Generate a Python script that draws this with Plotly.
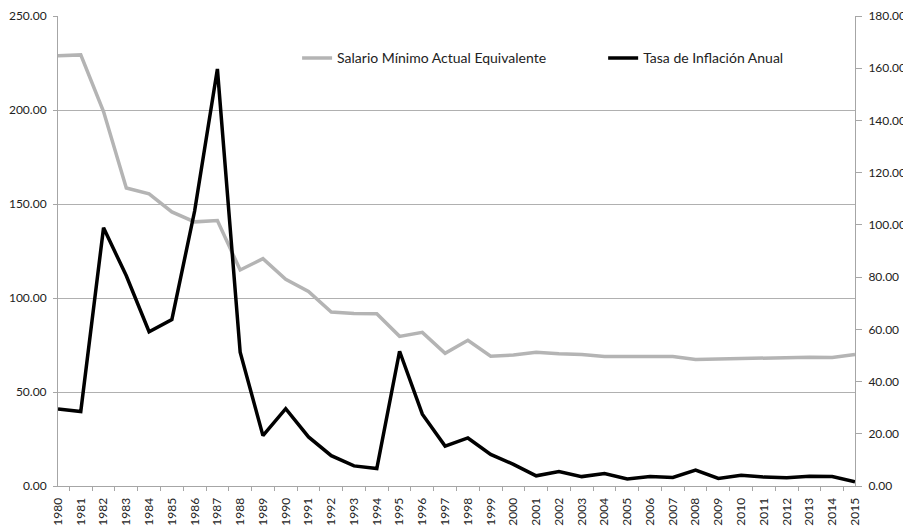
import plotly.graph_objects as go

years = [str(y) for y in range(1980, 2016)]
salario = [228.8, 229.3, 199.2, 158.5, 155.4, 145.8, 140.5, 141.2, 114.9, 120.9,
           110.0, 103.5, 92.5, 91.8, 91.6, 79.6, 81.7, 70.6, 77.5, 69.0,
           69.7, 71.1, 70.3, 69.9, 68.9, 68.9, 68.9, 68.9, 67.3, 67.6,
           68.0, 68.2, 68.4, 68.5, 68.3, 69.9]
inflacion = [29.5, 28.5, 98.9, 80.5, 59.1, 63.7, 105.3, 159.7, 51.2, 19.3,
             29.6, 18.8, 11.6, 7.7, 6.7, 51.6, 27.5, 15.3, 18.4, 12.1,
             8.3, 3.9, 5.5, 3.6, 4.8, 2.7, 3.6, 3.3, 6.1, 2.9,
             4.1, 3.4, 3.2, 3.7, 3.6, 1.6]

font_family = "Lato, Open Sans, sans-serif"

fig = go.Figure()
fig.add_trace(go.Scatter(x=years, y=salario, mode="lines",
                         name="Salario Mínimo Actual Equivalente",
                         line=dict(color="#b4b4b4", width=3.5),
                         legend="legend", showlegend=True))
fig.add_trace(go.Scatter(x=years, y=inflacion, mode="lines",
                         name="Tasa de Inflación Anual",
                         line=dict(color="#000000", width=3.5),
                         yaxis="y2", legend="legend2", showlegend=True))

axis_grey = "#a6a6a6"
# The page body keeps an 8px margin, so the figure is 8px smaller than the window
fig.update_layout(
    width=903, height=519,
    margin=dict(l=50, r=56, t=8, b=41, autoexpand=False),
    showlegend=True,
    plot_bgcolor="white", paper_bgcolor="white",
    font=dict(family=font_family, size=12, color="#222222"),
    xaxis=dict(type="category", tickangle=-90, tickfont=dict(size=12),
               ticks="outside", ticklen=4, tickcolor=axis_grey,
               tickson="boundaries", showline=True, linecolor=axis_grey,
               showgrid=False, zeroline=False, automargin=False,
               ticklabelstandoff=6, ticklabeloverflow="allow"),
    yaxis=dict(range=[0, 250], dtick=50, tickformat=".2f",
               showgrid=True, gridcolor="#b0b0b0", gridwidth=1,
               ticks="outside", ticklen=4, tickcolor=axis_grey,
               showline=True, linecolor=axis_grey, zeroline=False,
               automargin=False, ticklabelstandoff=4,
               ticklabeloverflow="allow"),
    yaxis2=dict(range=[0, 180], dtick=20, tickformat=".2f", overlaying="y",
                side="right", showgrid=False, ticks="outside", ticklen=6,
                tickcolor=axis_grey, showline=True, linecolor=axis_grey,
                zeroline=False, automargin=False, ticklabelstandoff=4,
                ticklabeloverflow="allow"),
    legend=dict(x=0.30, y=0.91, xanchor="left", yanchor="middle",
                bgcolor="rgba(0,0,0,0)", font=dict(size=14),
                itemwidth=30),
    legend2=dict(x=0.684, y=0.91, xanchor="left", yanchor="middle",
                 bgcolor="rgba(0,0,0,0)", font=dict(size=14),
                 itemwidth=30),
)

fig.write_html("out.html")
